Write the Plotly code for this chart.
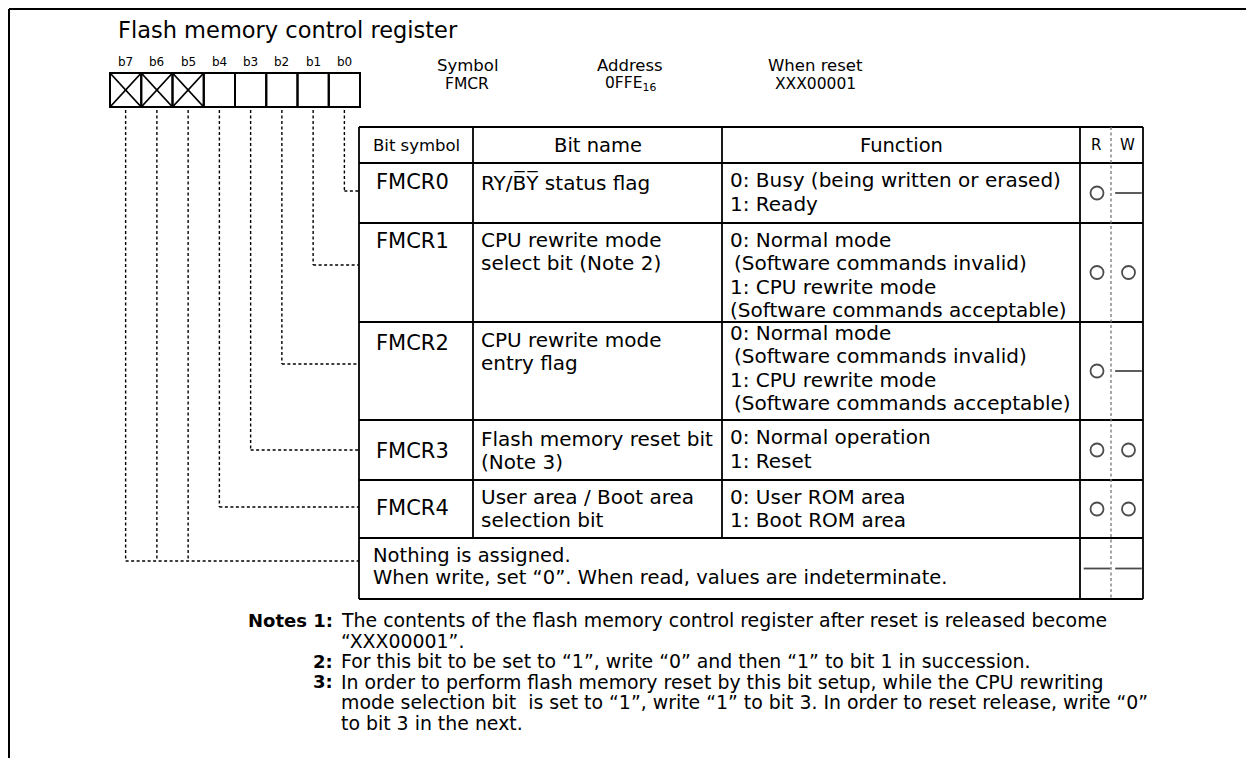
import plotly.graph_objects as go

# ---------------- data ----------------
title = "Flash memory control register"
bit_labels = ["b7", "b6", "b5", "b4", "b3", "b2", "b1", "b0"]
unused_bits = [True, True, True, False, False, False, False, False]
info_heads = ["Symbol", "Address", "When reset"]
info_values = ["FMCR", "0FFE<sub>16</sub>", "XXX00001"]
col_headers = ["Bit symbol", "Bit name", "Function", "R", "W"]
bit_symbols = ["FMCR0", "FMCR1", "FMCR2", "FMCR3", "FMCR4"]
bit_names = [
    ["RY/B\u0305Y\u0305 status flag"],
    ["CPU rewrite mode", "select bit (Note 2)"],
    ["CPU rewrite mode", "entry flag"],
    ["Flash memory reset bit", "(Note 3)"],
    ["User area / Boot area", "selection bit"],
]
functions = [
    ["0: Busy (being written or erased)", "1: Ready"],
    ["0: Normal mode", "\u2009(Software commands invalid)", "1: CPU rewrite mode",
     "(Software commands acceptable)"],
    ["0: Normal mode", "\u2009(Software commands invalid)", "1: CPU rewrite mode",
     "\u2009(Software commands acceptable)"],
    ["0: Normal operation", "1: Reset"],
    ["0: User ROM area", "1: Boot ROM area"],
]
nothing_text = ["Nothing is assigned.",
                "When write, set \u201c0\u201d. When read, values are indeterminate."]
read_marks = ["o", "o", "o", "o", "o", "-"]
write_marks = ["-", "o", "-", "o", "o", "-"]
note_labels = ["Notes 1:", "", "2:", "3:", "", ""]
note_lines = [
    "The contents of the flash memory control register after reset is released become",
    "\u201cXXX00001\u201d.",
    "For this bit to be set to \u201c1\u201d, write \u201c0\u201d and then \u201c1\u201d to bit 1 in succession.",
    "In order to perform flash memory reset by this bit setup, while the CPU rewriting",
    "mode selection bit  is set to \u201c1\u201d, write \u201c1\u201d to bit 3. In order to reset release, write \u201c0\u201d",
    "to bit 3 in the next.",
]

# ---------------- geometry / style ----------------
W, H = 1254, 758
OFF = 8                       # page body margin of the html page
FONT = "DejaVu Sans"
BLACK = "#000000"
cell_x0, cell_w, cell_y0, cell_y1 = 110, 31.25, 73, 107
row_edges = [127, 163, 223, 322, 420, 480, 538, 599]
col_edges = [359, 473, 722, 1080, 1143]
rw_div = 1111
connector_y = [191, 265, 364, 450, 507, 561]      # b0..b4, then b5-b7 shared
sym_y = [182, 241, 343, 451, 508]
name_y = [[182], [240, 263], [340, 363], [439, 462], [497, 520]]
func_y = [[180, 203.5], [240, 263, 286.5, 309.5], [333, 356, 379.5, 403], [437, 461], [497, 520]]
nothing_y = [555, 577]
note_y = [620, 640.5, 661, 681.5, 702, 722.5]
info_x = [467, 630, 815]

shapes = []
annotations = []


def line(x0, y0, x1, y1, w=1.6, color=BLACK, dash="solid"):
    shapes.append(dict(type="line", xref="x", yref="y", x0=x0, y0=y0, x1=x1, y1=y1,
                       line=dict(color=color, width=w, dash=dash), layer="above"))


def text(x, y, s, size=19, anchor="left", bold=False):
    annotations.append(dict(x=x, y=y, xref="x", yref="y", text=("<b>%s</b>" % s) if bold else s,
                            showarrow=False, xanchor=anchor, yanchor="middle",
                            font=dict(family=FONT, size=size, color=BLACK), borderpad=0))


# outer frame (top and left)
line(9, 9, W, 9, w=2)
line(9, 9, 9, H, w=2)

# title
text(117, 30, title, size=22.5)

# bit boxes
for i, lab in enumerate(bit_labels):
    x0 = cell_x0 + i * cell_w
    cx = x0 + cell_w / 2
    text(cx, 62, lab, size=12, anchor="center")
    shapes.append(dict(type="rect", xref="x", yref="y", x0=x0, x1=x0 + cell_w, y0=cell_y0, y1=cell_y1,
                       line=dict(color=BLACK, width=2)))
    if unused_bits[i]:
        line(x0, cell_y0, x0 + cell_w, cell_y1, w=1.8)
        line(x0, cell_y1, x0 + cell_w, cell_y0, w=1.8)

# dashed connectors
DASH = "3px,2.5px"
for i in range(8):
    cx = cell_x0 + i * cell_w + cell_w / 2
    bit = 7 - i
    cy = connector_y[bit] if bit <= 4 else connector_y[5]
    line(cx, cell_y1 + 3, cx, cy, w=1.4, dash=DASH)
    if bit <= 4 or bit == 7:
        line(cx, cy, col_edges[0], cy, w=1.4, dash=DASH)

# header info
for x, h, v in zip(info_x, info_heads, info_values):
    text(x, 65.5, h, size=16.5, anchor="center")
    text(x, 84, v, size=15.5, anchor="center")

# table grid
top, bot = row_edges[0], row_edges[-1]
for yy in row_edges:
    line(col_edges[0], yy, col_edges[-1], yy, w=1.8)
line(col_edges[0], top, col_edges[0], bot, w=1.8)
line(col_edges[-1], top, col_edges[-1], bot, w=1.8)
line(col_edges[3], top, col_edges[3], bot, w=1.8)
line(col_edges[1], top, col_edges[1], row_edges[-2], w=1.8)
line(col_edges[2], top, col_edges[2], row_edges[-2], w=1.8)
line(rw_div, top, rw_div, bot, w=1.3, color="#777777", dash="3px,2.5px")

# column headers
hy = (row_edges[0] + row_edges[1]) / 2
text((col_edges[0] + col_edges[1]) / 2, hy, col_headers[0], size=16.5, anchor="center")
text((col_edges[1] + col_edges[2]) / 2, hy, col_headers[1], size=19.5, anchor="center")
text((col_edges[2] + col_edges[3]) / 2, hy, col_headers[2], size=19.5, anchor="center")
text((col_edges[3] + rw_div) / 2, hy, col_headers[3], size=15, anchor="center")
text((rw_div + col_edges[4]) / 2, hy, col_headers[4], size=15, anchor="center")

# rows
for r in range(5):
    text(col_edges[0] + 16, sym_y[r], bit_symbols[r], size=21)
    for s, yy in zip(bit_names[r], name_y[r]):
        text(col_edges[1] + 7, yy, s, size=20)
    for s, yy in zip(functions[r], func_y[r]):
        text(col_edges[2] + 7, yy, s, size=20)
for s, yy in zip(nothing_text, nothing_y):
    text(col_edges[0] + 13, yy, s, size=19.5)

# notes
for lab, s, yy in zip(note_labels, note_lines, note_y):
    if lab:
        text(334, yy, lab, size=18, anchor="right", bold=True)
    text(340, yy, s, size=18.9)

# R / W marks
row_mid = [(row_edges[k + 1] + row_edges[k + 2]) / 2 for k in range(6)]
rx = (col_edges[3] + rw_div) / 2 + 1.5
wx = (rw_div + col_edges[4]) / 2 + 1.5
symmap = {"o": "circle-open", "-": "line-ew"}
sizemap = {"o": 13, "-": 19}

fig = go.Figure()
for xpos, marks in ((rx, read_marks), (wx, write_marks)):
    fig.add_trace(go.Scatter(
        x=[xpos] * len(marks), y=row_mid, mode="markers", hoverinfo="skip",
        marker=dict(symbol=[symmap[m] for m in marks], size=[sizemap[m] for m in marks],
                    color=BLACK, line=dict(color=BLACK, width=1.8)),
        showlegend=False))

fig.update_layout(
    width=W - OFF, height=H - OFF, margin=dict(l=0, r=0, t=0, b=0),
    paper_bgcolor="white", plot_bgcolor="white",
    xaxis=dict(range=[OFF, W], visible=False, fixedrange=True),
    yaxis=dict(range=[H, OFF], visible=False, fixedrange=True),
    shapes=shapes, annotations=annotations,
)
fig.write_html("out.html")
